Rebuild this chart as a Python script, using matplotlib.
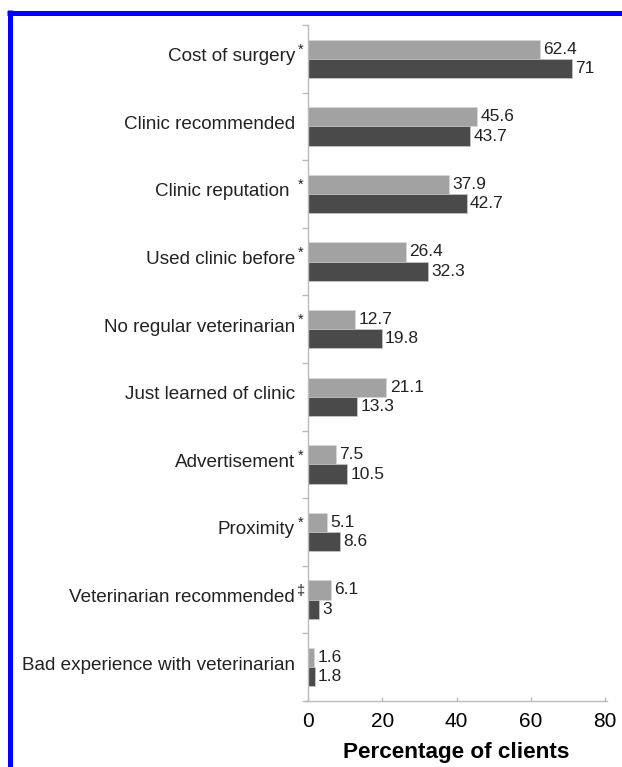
import numpy as np
import matplotlib
matplotlib.use('Agg')
import matplotlib.pyplot as plt
from matplotlib.transforms import offset_copy, blended_transform_factory
from matplotlib.lines import Line2D

plt.rcParams['font.family'] = ['Liberation Sans', 'DejaVu Sans']

categories = ['Cost of surgery', 'Clinic recommended', 'Clinic reputation ',
              'Used clinic before', 'No regular veterinarian', 'Just learned of clinic',
              'Advertisement', 'Proximity', 'Veterinarian recommended',
              'Bad experience with veterinarian']
markers = ['*', '', '*', '*', '*', '', '*', '*', '\u2021', '']
light_vals = [62.4, 45.6, 37.9, 26.4, 12.7, 21.1, 7.5, 5.1, 6.1, 1.6]
dark_vals = [71, 43.7, 42.7, 32.3, 19.8, 13.3, 10.5, 8.6, 3, 1.8]
light_labels = ['62.4', '45.6', '37.9', '26.4', '12.7', '21.1', '7.5', '5.1', '6.1', '1.6']
dark_labels = ['71', '43.7', '42.7', '32.3', '19.8', '13.3', '10.5', '8.6', '3', '1.8']
xticks = [0, 20, 40, 60, 80]

W, H = 622, 767
fig = plt.figure(figsize=(W / 100, H / 100), dpi=100)
ax = fig.add_axes([308 / W, 1 - 701 / H, (605 - 308) / W, (701 - 25) / H])

y = np.arange(len(categories))
h = 0.285
ax.barh(y - h / 2, light_vals, height=h, color='#a2a2a2', edgecolor='#d8d8d8', linewidth=0.5)
ax.barh(y + h / 2, dark_vals, height=h, color='#4a4a4a', edgecolor='#c8c8c8', linewidth=0.5)

ax.set_xlim(0, 80)
ax.set_ylim(len(categories) - 0.5, -0.5)

for i in range(len(categories)):
    ax.text(light_vals[i] + 0.9, y[i] - h / 2, light_labels[i], va='center', ha='left', fontsize=12.5, color='#222222')
    ax.text(dark_vals[i] + 0.9, y[i] + h / 2, dark_labels[i], va='center', ha='left', fontsize=12.5, color='#222222')

# category labels + superscript markers
trans = blended_transform_factory(ax.transAxes, ax.transData)
lab_tr = offset_copy(trans, fig=fig, x=-13, y=2, units='dots')
mk_tr = offset_copy(trans, fig=fig, x=-7.5, y=9, units='dots')
for i, name in enumerate(categories):
    ax.text(0, y[i], name, transform=lab_tr, ha='right', va='center', fontsize=13.6, color='#222222')
    if markers[i]:
        ax.text(0, y[i], markers[i], transform=mk_tr, ha='center', va='center', fontsize=10.5, color='#222222')

ax.set_yticks(np.arange(-0.5, len(categories), 1.0))
ax.set_yticklabels([])
ax.tick_params(axis='y', length=4, color='#bbbbbb', width=1)
ax.set_xticks(xticks)
ax.set_xticklabels([str(t) for t in xticks], fontsize=15)
ax.tick_params(axis='x', direction='in', length=3, color='#bbbbbb', width=1, pad=8)

for s in ['top', 'right']:
    ax.spines[s].set_visible(False)
for s in ['left', 'bottom']:
    ax.spines[s].set_color('#bbbbbb')
    ax.spines[s].set_linewidth(1)
ax.spines['bottom'].set_bounds(-0.8, 80.5)

ax.set_xlabel('Percentage of clients', fontsize=16.2, fontweight='bold', labelpad=8)

# blue frame
fig.add_artist(Line2D([9.5 / W, 9.5 / W], [0, 1 - 10 / H], transform=fig.transFigure, color='#0000ff', lw=3.6, solid_capstyle='butt'))
fig.add_artist(Line2D([7 / W, 1], [1 - 12.5 / H, 1 - 12.5 / H], transform=fig.transFigure, color='#0000ff', lw=3.6, solid_capstyle='butt'))

fig.savefig('out.png', dpi=100)
